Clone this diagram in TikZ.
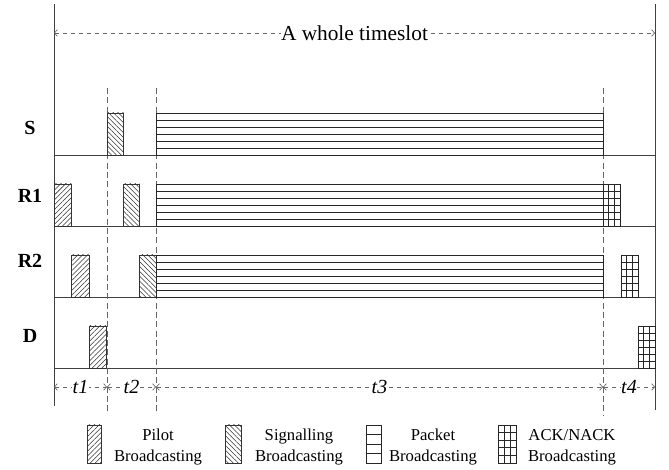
\documentclass[tikz,border=0pt]{standalone}
\usepackage{fontspec}
\setmainfont{Liberation Serif}
\usetikzlibrary{patterns.meta,arrows.meta}

\begin{document}
\begin{tikzpicture}[x=0.75pt,y=-0.75pt,
  every node/.style={inner sep=1pt, outer sep=0pt},
  frameline/.style={draw=black!75, line width=0.6pt},
  slotline/.style={draw=black!60, line width=0.6pt, dash pattern=on 4.5pt off 2.5pt},
  dimarrow/.style={draw=black!60, line width=0.5pt, dash pattern=on 3.5pt off 2.5pt,
    {Straight Barb[length=2.2pt,width=5pt]}-{Straight Barb[length=2.2pt,width=5pt]}},
  pilot/.style={draw=black!80, line width=0.5pt, pattern={Lines[angle=45,distance=2.6pt,line width=0.4pt]}, pattern color=black!80},
  signal/.style={draw=black!80, line width=0.5pt, pattern={Lines[angle=-45,distance=2.6pt,line width=0.4pt]}, pattern color=black!80},
  packet/.style={draw=black!85, line width=0.5pt},
  ack/.style={draw=black!85, line width=0.5pt},
  rowlabel/.style={font=\fontsize{15}{18}\selectfont\bfseries},
  tlabel/.style={fill=white, inner xsep=0.3pt, font=\fontsize{15}{18}\selectfont\itshape},
  legtext/.style={align=center, font=\fontsize{12.5}{15.5}\selectfont}
]
\useasboundingbox (0,0) rectangle (669,470);

% frame and rows
\draw[frameline] (54,4) -- (54,406);
\draw[frameline] (655,4) -- (655,410);
\foreach \y in {155,226,297,368} {
\draw[frameline] (54,\y) -- (655,\y);
}
\foreach \x/\e in {107/413,156/413,603/415} {
\draw[slotline] (\x,88) -- (\x,\e);
}

% row names
\node[rowlabel] (nodeS) at (30,128) {S};
\node[rowlabel] (nodeR1) at (30,196) {R1};
\node[rowlabel] (nodeR2) at (30,261) {R2};
\node[rowlabel] (nodeD) at (30,336) {D};

% pilot and signalling
\foreach \x/\y in {54/184,71.5/255,89/326} {
\draw[pilot] (\x,\y) rectangle ++(17.5,42);
}
\foreach \x/\y in {107/113,123/184,139.5/255} {
\draw[signal] (\x,\y) rectangle ++(16.5,42);
}

% packets
\foreach \y in {113,184,255} {
\draw[packet] (156,\y) rectangle (603,\y+42);
\foreach \k in {1,...,5} {
\draw[packet] (156,\y+7*\k) -- (603,\y+7*\k);
}}

% ack/nack
\foreach \x/\y in {603/184,621/255,638/326} {
\draw[ack] (\x,\y) rectangle ++(17,42);
\foreach \k in {1,...,5} {
\draw[ack] (\x,\y+7*\k) -- ++(17,0);
}
\foreach \k in {1,2} {
\draw[ack] (\x+17*\k/3,\y) -- ++(0,42);
}}

% timeslot
\coordinate (slotL) at (54,33);
\coordinate (slotR) at (655,33);
\draw[dimarrow] (slotL) -- node[tlabel, font=\fontsize{16}{19}\selectfont] (whole) {A whole timeslot} (slotR);

\coordinate (p0) at (54,387);
\coordinate (p1) at (107,387);
\coordinate (p2) at (156,387);
\coordinate (p3) at (603,387);
\coordinate (p4) at (655,387);
\draw[dimarrow] (p0) -- node[tlabel] (tA) {t1} (p1);
\draw[dimarrow] (p1) -- node[tlabel] (tB) {t2} (p2);
\draw[dimarrow] (p2) -- node[tlabel] (tC) {t3} (p3);
\draw[dimarrow] (p3) -- node[tlabel] (tD) {t4} (p4);

% legend
\draw[pilot] (87,425) rectangle (101,463);
\draw[signal] (225,425) rectangle (241,463);
\draw[packet] (366,425) rectangle (381,463);
\foreach \k in {1,2,3} {
\draw[packet] (366,425+9.5*\k) -- (381,425+9.5*\k);
}
\draw[ack] (498,425) rectangle (516,463);
\foreach \k in {1,...,4} {
\draw[ack] (498,425+7.6*\k) -- (516,425+7.6*\k);
}
\foreach \k in {1,2} {
\draw[ack] (498+6*\k,425) -- (498+6*\k,463);
}
\node[legtext] (legPilot) at (158,447) {Pilot\\Broadcasting};
\node[legtext] (legSignal) at (299,447) {Signalling\\Broadcasting};
\node[legtext] (legPacket) at (433,447) {Packet\\Broadcasting};
\node[legtext] (legAck) at (572,447) {ACK/NACK\\Broadcasting};
\end{tikzpicture}
\end{document}
